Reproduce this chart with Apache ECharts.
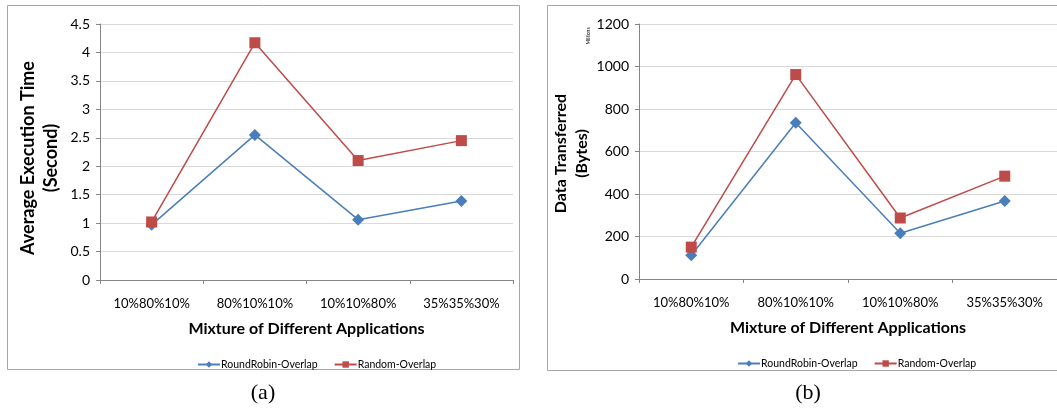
<!DOCTYPE html>
<html>
<head>
<meta charset="utf-8">
<script src="https://cdn.jsdelivr.net/npm/echarts@6/dist/echarts.min.js"></script>
<style>
  html, body { margin: 0; padding: 0; background: #fff; }
  #chart { width: 1057px; height: 409px; }
</style>
</head>
<body>
<div id="chart"></div>
<script>
// Workload mixtures on the x axis of both panels
const categories = ['10%80%10%', '80%10%10%', '10%10%80%', '35%35%30%'];
const seriesNames = ['RoundRobin-Overlap', 'Random-Overlap'];

// (a) Average execution time, seconds
const timeRoundRobin = [0.97, 2.55, 1.06, 1.39];
const timeRandom = [1.02, 4.17, 2.10, 2.45];

// (b) Data transferred, millions of bytes
const bytesRoundRobin = [112, 735, 215, 367];
const bytesRandom = [150, 962, 287, 484];

const BLUE = '#4a7ebb';
const RED = '#be4b48';
const FONT = 'Lato, "Open Sans", sans-serif';

const chart = echarts.init(document.getElementById('chart'), null, { renderer: 'canvas' });

function xAxisFor(gridIndex) {
  return {
    type: 'category', gridIndex, data: categories, boundaryGap: true,
    name: 'Mixture of Different Applications', nameLocation: 'middle', nameGap: 41,
    nameTextStyle: { fontFamily: FONT, fontWeight: 'bold', fontSize: 16, color: '#000' },
    axisLine: { lineStyle: { color: '#868686', width: 1 } },
    axisTick: { show: true, length: 4, lineStyle: { color: '#868686' } },
    axisLabel: { fontFamily: FONT, fontSize: 13, color: '#000', margin: 17 },
    splitLine: { show: false }
  };
}

function yAxisFor(gridIndex, name, max, interval, nameGap, nameSize, nameShift) {
  return {
    type: 'value', gridIndex, min: 0, max, interval,
    name, nameLocation: 'middle', nameRotate: 90, nameGap,
    nameTextStyle: { fontFamily: FONT, fontWeight: 'bold', fontSize: nameSize, color: '#000',
                     lineHeight: nameSize + 5, padding: [0, nameShift, 0, 0] },
    axisLine: { show: true, lineStyle: { color: '#868686', width: 1 } },
    axisTick: { show: true, length: 4, lineStyle: { color: '#868686' } },
    axisLabel: { fontFamily: FONT, fontSize: 14, color: '#000', margin: 10,
                 formatter: v => String(v) },
    splitLine: { show: true, lineStyle: { color: '#d9d9d9', width: 1 } }
  };
}

function lineSeries(name, data, xIdx, yIdx, color, symbol, size) {
  return {
    type: 'line', name, data, xAxisIndex: xIdx, yAxisIndex: yIdx,
    symbol, symbolSize: size, showSymbol: true,
    lineStyle: { color, width: 1.5 },
    itemStyle: { color },
    emphasis: { disabled: true },
    animation: false
  };
}

function legendFor(left, top) {
  return {
    left, top, data: seriesNames, itemWidth: 22, itemHeight: 8, itemGap: 16,
    textStyle: { fontFamily: FONT, fontSize: 10.5, color: '#000', padding: [0, 0, 0, -4] },
    selectedMode: false
  };
}

chart.setOption({
  animation: false,
  grid: [
    { left: 100, top: 24, width: 413, height: 256 },
    { left: 639, top: 24, width: 418, height: 255 }
  ],
  xAxis: [xAxisFor(0), xAxisFor(1)],
  yAxis: [
    yAxisFor(0, 'Average Execution Time\n(Second)', 4.5, 0.5, 37, 18, 12),
    yAxisFor(1, 'Data Transferred\n(Bytes)', 1200, 200, 46, 16, 4)
  ],
  legend: [legendFor(192, 354), legendFor(732, 353)],
  series: [
    lineSeries(seriesNames[0], timeRoundRobin, 0, 0, BLUE, 'diamond', 12),
    lineSeries(seriesNames[1], timeRandom, 0, 0, RED, 'rect', 11),
    lineSeries(seriesNames[0], bytesRoundRobin, 1, 1, BLUE, 'diamond', 12),
    lineSeries(seriesNames[1], bytesRandom, 1, 1, RED, 'rect', 11)
  ],
  graphic: [
    { type: 'rect', shape: { x: 7.5, y: 5.5, width: 512, height: 364 },
      style: { fill: 'none', stroke: '#a6a6a6', lineWidth: 1 }, silent: true, z: -1 },
    { type: 'rect', shape: { x: 547.5, y: 5.5, width: 520, height: 365 },
      style: { fill: 'none', stroke: '#a6a6a6', lineWidth: 1 }, silent: true, z: -1 },
    { type: 'text', x: 588, y: 36, rotation: Math.PI / 2,
      style: { text: 'Millions', fontFamily: FONT, fontSize: 5, fill: '#000',
               align: 'center', verticalAlign: 'middle' }, silent: true },
    { type: 'text', x: 263, y: 393,
      style: { text: '(a)', fontFamily: '"Liberation Serif", serif', fontSize: 22, fill: '#000',
               align: 'center', verticalAlign: 'middle' }, silent: true },
    { type: 'text', x: 808, y: 393,
      style: { text: '(b)', fontFamily: '"Liberation Serif", serif', fontSize: 22, fill: '#000',
               align: 'center', verticalAlign: 'middle' }, silent: true }
  ]
});
</script>
</body>
</html>
